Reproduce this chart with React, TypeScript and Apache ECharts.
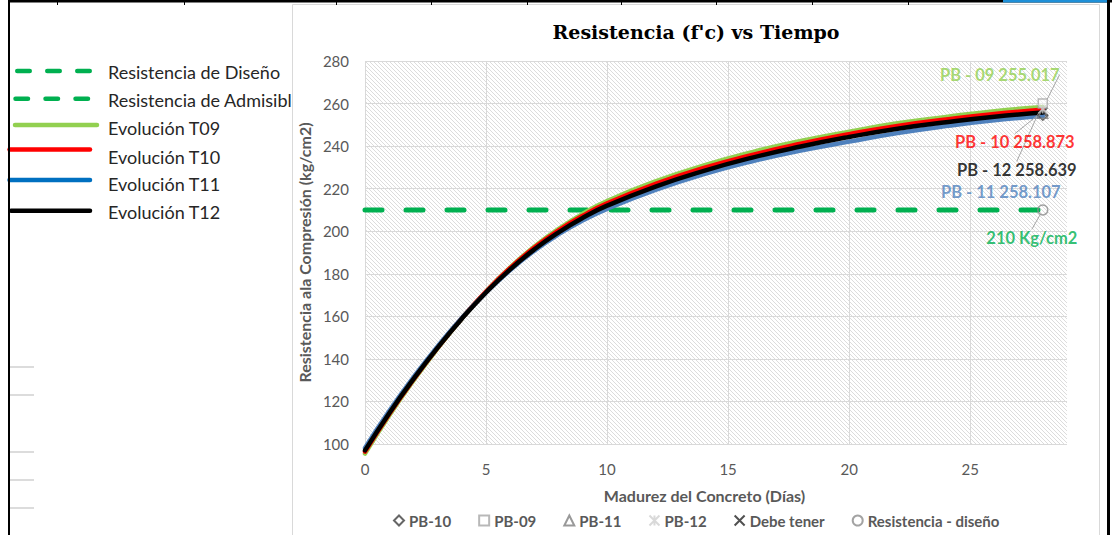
import React, { useEffect, useRef } from 'react';
import * as echarts from 'echarts';

// ---- data ----
const days = [0, 1, 2, 3, 4, 5, 6, 7, 8, 9, 10, 12, 14, 16, 18, 20, 22, 24, 26, 28];
const evolT09 = [95.5, 113.4, 129.8, 145.0, 159.0, 171.7, 183.0, 192.8, 201.1, 208.2, 214.2, 223.4, 230.9, 237.2, 242.4, 246.8, 250.7, 253.7, 256.4, 258.4];
const evolT10 = [96.4, 114.1, 130.3, 145.3, 159.1, 171.6, 182.7, 192.3, 200.4, 207.3, 213.1, 222.2, 229.7, 235.9, 241.1, 245.6, 249.5, 252.5, 255.1, 257.1];
const evolT11 = [98.2, 115.5, 131.3, 145.9, 159.2, 171.2, 181.8, 190.9, 198.6, 205.1, 210.5, 219.4, 226.8, 232.9, 237.9, 242.1, 246.1, 249.4, 252.1, 254.1];
const evolT12 = [97, 114.5, 130.5, 145.3, 158.9, 171.2, 182.1, 191.5, 199.5, 206.3, 212, 221, 228.4, 234.6, 239.8, 244.3, 248.2, 251.2, 253.8, 255.8];
const designDays = [0, 28];
const designStrength = [210, 210];

const pointNames = ['PB-10', 'PB-09', 'PB-11', 'PB-12', 'Debe tener', 'Resistencia - diseño'];
const pointDays = [28, 28, 28, 28, 28, 28];
const pointValues = [254.5, 260, 255.5, 257.5, 256, 210];
const pointLabels = ['PB - 10 258.873', 'PB - 09 255.017', 'PB - 11 258.107', 'PB - 12 258.639', '', '210 Kg/cm2'];

const curveNames = ['Resistencia de Diseño', 'Resistencia de Admisible', 'Evolución T09', 'Evolución T10', 'Evolución T11', 'Evolución T12'];

const xMin = 0, xMax = 29, xStep = 5;
const yMin = 100, yMax = 280, yStep = 20;

const FONT = 'Lato';

function makeHatch() {
  const c = document.createElement('canvas');
  c.width = 8;
  c.height = 8;
  const ctx = c.getContext('2d')!;
  ctx.fillStyle = '#ffffff';
  ctx.fillRect(0, 0, 8, 8);
  ctx.fillStyle = '#dcdcdc';
  for (let i = 0; i < 8; i++) {
    ctx.fillRect(i, i, 1, 1);
    ctx.fillRect((i + 4) % 8, i, 1, 1);
  }
  return c;
}

export default function App() {
  const ref = useRef<HTMLDivElement>(null);

  useEffect(() => {
    if (!ref.current) return;
    const chart = echarts.init(ref.current, undefined, { renderer: 'svg' });

    const lineSeries = (name: string, vals: number[], color: string) => ({
      name,
      type: 'line',
      data: days.map((d, i) => [d, vals[i]]),
      smooth: 0.5,
      symbol: 'none',
      clip: false,
      lineStyle: { color, width: 4.5, cap: 'round', join: 'round' },
      z: 3,
      silent: true,
    });

    const pointStyles: any[] = [
      { symbol: 'diamond', size: 10, itemStyle: { color: 'rgba(255,255,255,0)', borderColor: '#404040', borderWidth: 1.5 }, color: '#ff0000', dx: -28, dy: 27, line: true, z: 4 },
      { symbol: 'rect', size: 9, itemStyle: { color: 'rgba(255,255,255,0.6)', borderColor: '#a6a6a6', borderWidth: 1.5 }, color: '#92d050', dx: -43, dy: -29, line: true, z: 4 },
      { symbol: 'triangle', size: 10, itemStyle: { color: 'rgba(255,255,255,0)', borderColor: '#7f7f7f', borderWidth: 1.5 }, color: '#4f81bd', dx: -42, dy: 79, line: false, z: 4 },
      { symbol: 'path://M0,0L10,10M10,0L0,10M5,0L5,10', size: 9, itemStyle: { color: '#d0d0d0', borderColor: '#d0d0d0', borderWidth: 1.5 }, color: '#000000', dx: -26, dy: 61, line: true, z: 4 },
      { symbol: 'path://M0,0L10,10M10,0L0,10', size: 9, itemStyle: { color: '#262626', borderColor: '#262626', borderWidth: 2 }, color: '#000000', dx: 0, dy: 0, line: false, z: 1 },
      { symbol: 'circle', size: 10, itemStyle: { color: 'rgba(255,255,255,0)', borderColor: '#8c8c8c', borderWidth: 1.5 }, color: '#00b050', dx: -11, dy: 28, line: true, z: 4 },
    ];

    const scatterSeries = pointNames.map((name, i) => {
      const s = pointStyles[i];
      return {
        name,
        type: 'scatter',
        data: [[pointDays[i], pointValues[i]]],
        symbol: s.symbol,
        symbolSize: s.size,
        itemStyle: s.itemStyle,
        clip: false,
        z: s.z,
        silent: true,
        label: {
          show: pointLabels[i] !== '',
          position: 'inside',
          formatter: pointLabels[i],
          color: s.color,
          fontFamily: FONT,
          fontWeight: 'bold',
          fontSize: 16.5,
        },
        labelLayout: { dx: s.dx, dy: s.dy },
        labelLine: { show: s.line, lineStyle: { color: '#a6a6a6', width: 1 } },
      };
    });

    const graphics: any[] = [];
    // left (worksheet) legend
    const legendRows = [
      { y: 71, x1: 17.25, x2: 91, color: '#00b050', dash: [12.5, 17.5], ty: 72 },
      { y: 98.7, x1: 15.5, x2: 91, color: '#00b050', dash: [12.5, 17.5], ty: 99.5 },
      { y: 125, x1: 15, x2: 97, color: '#92d050', dash: null, ty: 128 },
      { y: 149.5, x1: 9.5, x2: 90, color: '#ff0000', dash: null, ty: 157 },
      { y: 180, x1: 9.5, x2: 90, color: '#0070c0', dash: null, ty: 184 },
      { y: 210.7, x1: 11, x2: 90, color: '#000000', dash: null, ty: 212 },
    ];
    legendRows.forEach((r, i) => {
      graphics.push({
        type: 'line',
        z: -3,
        shape: { x1: r.x1, y1: r.y, x2: r.x2, y2: r.y },
        style: { stroke: r.color, lineWidth: 4.5, lineCap: 'round', lineDash: r.dash || undefined },
        silent: true,
      });
      graphics.push({
        type: 'text',
        z: -3,
        x: 108,
        y: r.ty,
        style: { text: curveNames[i], fontFamily: FONT, fontSize: 18, fill: '#262626', verticalAlign: 'middle' },
        silent: true,
      });
    });
    // chart frame (covers the clipped legend text)
    graphics.push({
      type: 'rect',
      z: -1,
      shape: { x: 292.5, y: 4.5, width: 807, height: 540 },
      style: { fill: '#ffffff', stroke: '#d9d9d9', lineWidth: 1 },
      silent: true,
    });
    // worksheet borders
    graphics.push({ type: 'rect', z: 5, shape: { x: 8, y: 0, width: 1104, height: 2.5 }, style: { fill: '#000' }, silent: true });
    graphics.push({ type: 'rect', z: 5, shape: { x: 1003, y: 0, width: 107, height: 2.5 }, style: { fill: '#1e90d8' }, silent: true });
    graphics.push({ type: 'rect', z: 5, shape: { x: 8, y: 0, width: 2, height: 535 }, style: { fill: '#000' }, silent: true });
    graphics.push({ type: 'rect', z: 5, shape: { x: 1107, y: 0, width: 3, height: 535 }, style: { fill: '#000' }, silent: true });
    [57, 184, 336, 431, 527, 621, 716, 812, 908].forEach((x) => {
      graphics.push({ type: 'rect', z: 5, shape: { x, y: 0, width: 1, height: 5 }, style: { fill: '#000' }, silent: true });
    });
    [367, 395, 452, 480, 508].forEach((y) => {
      graphics.push({ type: 'rect', z: -3, shape: { x: 10, y: y - 1, width: 24, height: 2 }, style: { fill: '#dcdcdc' }, silent: true });
    });

    const hatch = makeHatch();

    chart.setOption({
      animation: false,
      backgroundColor: '#ffffff',
      title: {
        text: "Resistencia (f'c) vs Tiempo",
        left: 696,
        top: 22,
        textAlign: 'center',
        padding: 0,
        textStyle: { fontFamily: 'DejaVu Serif', fontWeight: 'bold', fontSize: 19, color: '#000' },
      },
      legend: {
        data: pointNames,
        left: 393,
        top: 513,
        padding: 0,
        itemWidth: 10,
        itemHeight: 10,
        itemGap: 27,
        selectedMode: false,
        textStyle: { fontFamily: FONT, fontWeight: 'bold', fontSize: 15, color: '#595959' },
      },
      grid: {
        left: 365,
        right: 46,
        top: 61,
        bottom: 91,
        show: true,
        borderWidth: 0,
        backgroundColor: { image: hatch, repeat: 'repeat', imageWidth: 8, imageHeight: 8 } as any,
      },
      xAxis: {
        type: 'value',
        min: xMin,
        max: xMax,
        interval: xStep,
        name: 'Madurez del Concreto (Días)',
        nameLocation: 'middle',
        nameGap: 43,
        nameTextStyle: { fontFamily: FONT, fontWeight: 'bold', fontSize: 16, color: '#595959', padding: [0, 23, 0, 0] },
        axisLine: { show: false },
        axisTick: { show: false },
        axisLabel: { fontFamily: FONT, fontSize: 15, color: '#595959', margin: 17, showMaxLabel: false },
        splitLine: { show: true, showMaxLine: false, lineStyle: { color: '#d9d9d9', width: 1 } },
      },
      yAxis: {
        type: 'value',
        min: yMin,
        max: yMax,
        interval: yStep,
        name: 'Resistencia ala Compresión (kg/cm2)',
        nameLocation: 'middle',
        nameRotate: 90,
        nameGap: 35,
        nameTextStyle: { fontFamily: FONT, fontWeight: 'bold', fontSize: 16, color: '#595959' },
        axisLine: { show: false },
        axisTick: { show: false },
        axisLabel: { fontFamily: FONT, fontSize: 15, color: '#595959', margin: 16 },
        splitLine: { show: true, lineStyle: { color: '#d9d9d9', width: 1 } },
      },
      graphic: { elements: graphics },
      series: [
        {
          name: curveNames[0],
          type: 'line',
          data: designDays.map((d, i) => [d, designStrength[i]]),
          symbol: 'none',
          clip: false,
          z: 2,
          silent: true,
          lineStyle: { color: '#00b050', width: 5, type: [17, 24], cap: 'round' },
        },
        lineSeries(curveNames[2], evolT09, '#92d050'),
        lineSeries(curveNames[3], evolT10, '#ff0000'),
        lineSeries(curveNames[4], evolT11, '#4f81bd'),
        lineSeries(curveNames[5], evolT12, '#000000'),
        ...scatterSeries,
      ],
    } as any);

    return () => chart.dispose();
  }, []);

  return (
    <div
      ref={ref}
      style={{ position: 'absolute', left: 0, top: 0, width: 1113, height: 535, background: '#fff' }}
    />
  );
}
